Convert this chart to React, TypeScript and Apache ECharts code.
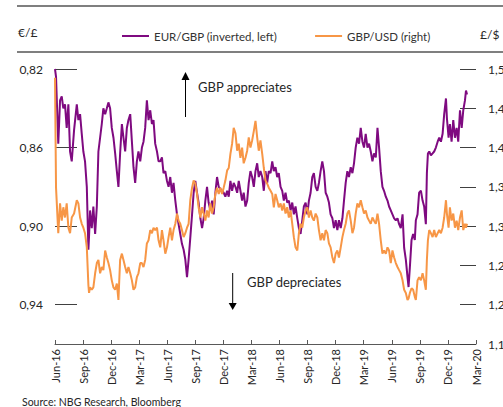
import React, { useEffect, useRef } from "react";
import * as echarts from "echarts";

// x positions in months since Jun-2016
const months = [
  0.0, 0.11, 0.35, 0.54, 0.72, 0.89, 1.07, 1.25, 1.43, 1.61, 1.79, 2.04, 2.33, 2.5, 2.68, 2.86, 3.03, 3.21, 3.4, 3.57, 3.64, 3.75, 3.93, 4.1, 4.29, 4.47, 4.64, 4.82, 5.0, 5.17, 5.36, 5.54, 5.71, 5.89, 6.07, 6.25, 6.43, 6.61, 6.78, 6.96, 7.15, 7.32, 7.5, 7.68, 7.85, 8.04, 8.22, 8.39, 8.57, 8.75, 8.92, 9.11, 9.29, 9.46, 9.64, 9.82, 10.0, 10.18, 10.36, 10.53, 10.71, 10.9, 11.07,
  11.25, 11.43, 11.6, 11.79, 11.97, 12.14, 12.32, 12.5, 12.67, 12.86, 13.04, 13.21, 13.39, 13.57, 13.75, 13.93, 14.11, 14.28, 14.46, 14.65, 14.82, 15.0, 15.18, 15.35, 15.54, 15.72, 15.89, 16.07, 16.25, 16.42, 16.61, 16.79, 16.96, 17.14, 17.32, 17.5, 17.68, 17.86, 18.03, 18.21, 18.4, 18.57, 18.75, 18.93, 19.1, 19.29, 19.47, 19.64, 19.82, 20.0, 20.17, 20.36, 20.54, 20.71, 20.89, 21.07, 21.25, 21.43, 21.61, 21.78, 21.96, 22.15, 22.32,
  22.5, 22.68, 22.85, 23.04, 23.22, 23.39, 23.57, 23.75, 23.92, 24.11, 24.29, 24.46, 24.64, 24.82, 25.0, 25.18, 25.36, 25.53, 25.71, 25.9, 26.07, 26.25, 26.43, 26.6, 26.79, 26.97, 27.14, 27.32, 27.5, 27.67, 27.86, 28.04, 28.21, 28.39, 28.57, 28.75, 28.93, 29.11, 29.28, 29.46, 29.65, 29.82, 30.0, 30.18, 30.35, 30.54, 30.72, 30.89, 31.07, 31.25, 31.42, 31.61, 31.79, 31.96, 32.14, 32.32, 32.5, 32.68, 32.86, 33.03, 33.21, 33.4, 33.57,
  33.75, 33.93, 34.1, 34.29, 34.47, 34.64, 34.82, 35.0, 35.17, 35.36, 35.54, 35.71, 35.89, 36.07, 36.25, 36.43, 36.61, 36.78, 36.96, 37.15, 37.32, 37.5, 37.68, 37.79, 37.93, 38.11, 38.28, 38.46, 38.57, 38.75, 38.92, 39.11, 39.29, 39.46, 39.64, 39.75, 39.86, 40.0, 40.18, 40.36, 40.53, 40.71, 40.9, 41.07, 41.25, 41.43, 41.6, 41.79, 41.89, 42.07, 42.21, 42.39, 42.57, 42.75, 42.93, 43.1, 43.29, 43.47, 43.64, 43.82, 43.93, 44.04,
];

const eurGbp = [
  0.82, 0.824, 0.858, 0.836, 0.834, 0.84, 0.838, 0.85, 0.838, 0.862, 0.867, 0.851, 0.838, 0.846, 0.843, 0.853, 0.862, 0.867, 0.88, 0.912, 0.905, 0.892, 0.901, 0.89, 0.904, 0.89, 0.862, 0.855, 0.848, 0.84, 0.843, 0.84, 0.837, 0.84, 0.85, 0.855, 0.863, 0.872, 0.88, 0.863, 0.848, 0.855, 0.862, 0.85, 0.846, 0.843, 0.857, 0.87, 0.878, 0.867, 0.862, 0.867, 0.86, 0.857, 0.85, 0.836, 0.846, 0.841, 0.848, 0.846, 0.858, 0.862, 0.867,
  0.867, 0.865, 0.873, 0.872, 0.877, 0.88, 0.875, 0.883, 0.878, 0.887, 0.894, 0.899, 0.904, 0.909, 0.912, 0.917, 0.926, 0.917, 0.906, 0.894, 0.883, 0.877, 0.883, 0.888, 0.896, 0.901, 0.896, 0.887, 0.88, 0.888, 0.892, 0.887, 0.894, 0.883, 0.875, 0.88, 0.881, 0.882, 0.883, 0.885, 0.882, 0.885, 0.877, 0.882, 0.878, 0.88, 0.883, 0.877, 0.882, 0.887, 0.883, 0.89, 0.887, 0.878, 0.872, 0.875, 0.88, 0.872, 0.868, 0.875, 0.872, 0.875, 0.882,
  0.872, 0.878, 0.872, 0.873, 0.867, 0.872, 0.87, 0.875, 0.873, 0.88, 0.882, 0.887, 0.883, 0.888, 0.887, 0.892, 0.888, 0.894, 0.89, 0.896, 0.901, 0.904, 0.897, 0.89, 0.888, 0.894, 0.887, 0.883, 0.875, 0.873, 0.88, 0.882, 0.878, 0.872, 0.867, 0.872, 0.883, 0.885, 0.888, 0.894, 0.896, 0.901, 0.897, 0.902, 0.897, 0.901, 0.896, 0.887, 0.878, 0.872, 0.875, 0.87, 0.873, 0.868, 0.86, 0.855, 0.858, 0.85, 0.857, 0.86, 0.853, 0.86, 0.858,
  0.862, 0.867, 0.863, 0.865, 0.85, 0.86, 0.872, 0.88, 0.882, 0.885, 0.887, 0.89, 0.892, 0.894, 0.896, 0.897, 0.896, 0.899, 0.901, 0.894, 0.911, 0.917, 0.926, 0.931, 0.921, 0.907, 0.904, 0.907, 0.897, 0.894, 0.883, 0.882, 0.887, 0.89, 0.899, 0.873, 0.863, 0.862, 0.864, 0.863, 0.862, 0.86, 0.857, 0.855, 0.857, 0.853, 0.843, 0.835, 0.845, 0.855, 0.848, 0.857, 0.846, 0.855, 0.85, 0.857, 0.841, 0.85, 0.841, 0.836, 0.831, 0.833,
];

const gbpUsd = [
  1.489, 1.349, 1.291, 1.329, 1.307, 1.324, 1.311, 1.329, 1.298, 1.291, 1.311, 1.316, 1.333, 1.329, 1.311, 1.303, 1.298, 1.291, 1.273, 1.225, 1.215, 1.222, 1.219, 1.222, 1.24, 1.253, 1.257, 1.24, 1.248, 1.244, 1.269, 1.26, 1.253, 1.244, 1.231, 1.222, 1.219, 1.227, 1.206, 1.257, 1.265, 1.257, 1.248, 1.24, 1.248, 1.24, 1.231, 1.219, 1.222, 1.235, 1.24, 1.253, 1.253, 1.248, 1.257, 1.278, 1.282, 1.295, 1.291, 1.298, 1.295, 1.298, 1.282,
  1.273, 1.295, 1.282, 1.265, 1.273, 1.286, 1.298, 1.282, 1.295, 1.303, 1.316, 1.307, 1.303, 1.295, 1.286, 1.291, 1.298, 1.303, 1.333, 1.349, 1.358, 1.354, 1.341, 1.324, 1.311, 1.324, 1.316, 1.307, 1.32, 1.311, 1.329, 1.316, 1.324, 1.341, 1.349, 1.341, 1.349, 1.341, 1.349, 1.358, 1.371, 1.374, 1.392, 1.405, 1.425, 1.418, 1.396, 1.405, 1.387, 1.4, 1.38, 1.387, 1.396, 1.413, 1.4, 1.409, 1.421, 1.434, 1.413, 1.396, 1.409, 1.392, 1.374,
  1.358, 1.354, 1.349, 1.345, 1.341, 1.324, 1.341, 1.333, 1.324, 1.329, 1.32, 1.329, 1.316, 1.324, 1.311, 1.32, 1.303, 1.286, 1.273, 1.269, 1.291, 1.303, 1.298, 1.311, 1.32, 1.324, 1.311, 1.32, 1.311, 1.307, 1.316, 1.311, 1.295, 1.282, 1.291, 1.282, 1.295, 1.291, 1.278, 1.273, 1.26, 1.253, 1.265, 1.269, 1.26, 1.273, 1.286, 1.295, 1.303, 1.316, 1.32, 1.307, 1.291, 1.298, 1.316, 1.329, 1.324, 1.333, 1.324, 1.316, 1.32, 1.311, 1.307,
  1.303, 1.311, 1.307, 1.303, 1.316, 1.303, 1.282, 1.265, 1.269, 1.265, 1.273, 1.269, 1.253, 1.269, 1.26, 1.253, 1.248, 1.244, 1.24, 1.231, 1.219, 1.215, 1.206, 1.208, 1.215, 1.221, 1.219, 1.21, 1.206, 1.231, 1.235, 1.231, 1.24, 1.231, 1.219, 1.257, 1.282, 1.295, 1.291, 1.286, 1.295, 1.286, 1.291, 1.295, 1.291, 1.298, 1.311, 1.333, 1.316, 1.298, 1.324, 1.307, 1.316, 1.298, 1.307, 1.295, 1.311, 1.32, 1.295, 1.303, 1.298, 1.303,
];

const xTickLabels = [
  "Jun-16", "Sep-16", "Dec-16", "Mar-17", "Jun-17", "Sep-17", "Dec-17", "Mar-18",
  "Jun-18", "Sep-18", "Dec-18", "Mar-19", "Jun-19", "Sep-19", "Dec-19", "Mar-20",
];

const seriesNames = ["EUR/GBP (inverted, left)", "GBP/USD (right)"];
const FONT = "Lato, 'Noto Sans', sans-serif";
const PURPLE = "#7F0A80";
const ORANGE = "#F79646";

export default function App() {
  const ref = useRef<HTMLDivElement>(null);
  useEffect(() => {
    document.body.style.margin = "0";
    if (!ref.current) return;
    const chart = echarts.init(ref.current, null, { renderer: "svg", width: 503, height: 407 });
    const fmt = (v: number) => v.toFixed(2).replace(".", ",");
    chart.setOption({
      animation: false,
      textStyle: { fontFamily: FONT },
      grid: { left: 55, right: 27, top: 69, bottom: 63, containLabel: false, outerBoundsMode: "none" },
      legend: {
        left: 117,
        top: 25,
        itemWidth: 27,
        itemHeight: 2,
        itemGap: 38,
        icon: "rect",
        textStyle: { fontFamily: FONT, fontSize: 11.5, color: "#333" },
        data: seriesNames,
      },
      xAxis: {
        type: "value",
        min: 0,
        max: 45,
        interval: 3,
        axisLine: { show: true, lineStyle: { color: "#595959", width: 1 } },
        axisTick: { show: true, inside: true, length: 4, lineStyle: { color: "#595959" } },
        axisLabel: {
          rotate: 90,
          margin: 5,
          fontSize: 11,
          fontFamily: FONT,
          color: "#262626",
          formatter: (v: number) => xTickLabels[Math.round(v / 3)] ?? "",
        },
        splitLine: { show: false },
      },
      yAxis: [
        {
          type: "value",
          inverse: true,
          min: 0.82,
          max: 0.96,
          interval: 0.04,
          position: "left",
          axisLine: { show: false },
          axisTick: { show: true, inside: true, length: 22, lineStyle: { color: "#404040" } },
          axisLabel: {
            margin: 12,
            fontSize: 12,
            fontFamily: FONT,
            color: "#262626",
            showMaxLabel: false,
            formatter: fmt,
          },
          splitLine: { show: false },
        },
        {
          type: "value",
          min: 1.15,
          max: 1.5,
          interval: 0.05,
          position: "right",
          axisLine: { show: false },
          axisTick: { show: true, inside: true, length: 16, lineStyle: { color: "#404040" } },
          axisLabel: {
            margin: 12,
            fontSize: 12,
            fontFamily: FONT,
            color: "#262626",
            formatter: fmt,
          },
          splitLine: { show: false },
        },
      ],
      series: [
        {
          name: seriesNames[0],
          type: "line",
          yAxisIndex: 0,
          symbol: "none",
          showSymbol: false,
          data: months.map((m, i) => [m, eurGbp[i]]),
          lineStyle: { color: PURPLE, width: 2 },
          itemStyle: { color: PURPLE },
          z: 2,
        },
        {
          name: seriesNames[1],
          type: "line",
          yAxisIndex: 1,
          symbol: "none",
          showSymbol: false,
          data: months.map((m, i) => [m, gbpUsd[i]]),
          lineStyle: { color: ORANGE, width: 2 },
          itemStyle: { color: ORANGE },
          z: 3,
        },
      ],
      graphic: [
        { type: "line", shape: { x1: 17, y1: 6, x2: 503, y2: 6 }, style: { stroke: "#7f7f7f", lineWidth: 2 } },
        { type: "line", shape: { x1: 17, y1: 52, x2: 503, y2: 52 }, style: { stroke: "#7f7f7f", lineWidth: 2 } },
        { type: "text", left: 18, top: 26, style: { text: "€/£", font: `12px ${FONT}`, fill: "#262626" } },
        { type: "text", left: 480, top: 28, style: { text: "£/$", font: `12px ${FONT}`, fill: "#262626" } },
        { type: "line", shape: { x1: 185.5, y1: 117, x2: 185.5, y2: 78 }, style: { stroke: "#000", lineWidth: 1 } },
        { type: "polygon", shape: { points: [[181.5, 80], [189.5, 80], [185.5, 72]] }, style: { fill: "#000" } },
        { type: "text", left: 198, top: 80, style: { text: "GBP appreciates", font: `13px ${FONT}`, fill: "#262626" } },
        { type: "line", shape: { x1: 232.7, y1: 273, x2: 232.7, y2: 304 }, style: { stroke: "#000", lineWidth: 1 } },
        { type: "polygon", shape: { points: [[228.7, 303], [236.7, 303], [232.7, 310]] }, style: { fill: "#000" } },
        { type: "text", left: 247, top: 275, style: { text: "GBP depreciates", font: `13px ${FONT}`, fill: "#262626" } },
        { type: "text", left: 22, top: 396, style: { text: "Source: NBG Research, Bloomberg", font: `10.5px ${FONT}`, fill: "#262626" } },
      ],
    });
    return () => chart.dispose();
  }, []);
  return (
    <div
      ref={ref}
      style={{ position: "fixed", left: 0, top: 0, width: 503, height: 407, background: "#fff" }}
    />
  );
}
